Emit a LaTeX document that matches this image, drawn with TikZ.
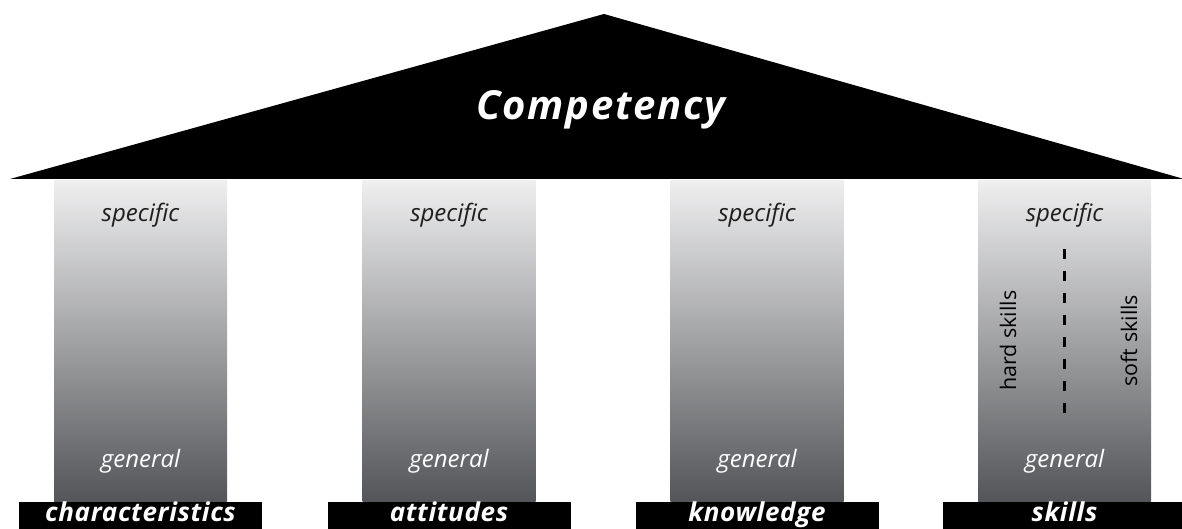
\documentclass[tikz,border=0pt]{standalone}
\usepackage{fontspec}
\setmainfont{Open Sans}
\usetikzlibrary{positioning}

\definecolor{pilltop}{RGB}{239,239,240}
\definecolor{pillbot}{RGB}{84,85,88}
\definecolor{spectext}{RGB}{30,30,30}

\tikzset{
    pillar/.style={minimum width=173pt, minimum height=321pt, inner sep=0pt,
        top color=pilltop, bottom color=pillbot, anchor=north},
    plinth/.style={fill=black, minimum width=243pt, minimum height=30pt, inner sep=0pt,
        text height=19pt, text depth=10pt, text=white,
        font=\fontsize{26}{30}\selectfont\bfseries\itshape\addfontfeatures{LetterSpace=2.5}},
    level/.style={inner sep=0pt, anchor=base, font=\fontsize{24}{28}\selectfont\itshape},
    skilltype/.style={inner sep=0pt, rotate=90, font=\fontsize{21.5}{25}\selectfont},
}

\begin{document}
\begin{tikzpicture}[x=1pt, y=-1pt]
    \useasboundingbox (0,0) rectangle (1182,529);

    % roof
    \fill[black] (10,179) -- (604,14) -- (1184,179) -- cycle;
    \node[anchor=base, text=white,
        font=\fontsize{40}{46}\selectfont\bfseries\itshape\addfontfeatures{LetterSpace=4.5}]
        (roof) at (601,120) {Competency};

    % pillars
    \node[pillar] (col1) at (140.5,180) {};
    \node[pillar] (col2) at (449,180) {};
    \node[pillar] (col3) at (757,180) {};
    \node[pillar] (col4) at (1064.5,180) {};

    % bases
    \node[plinth, below=0pt of col1] (base1) {characteristics};
    \node[plinth, below=0pt of col2] (base2) {attitudes};
    \node[plinth, below=0pt of col3] (base3) {knowledge};
    \node[plinth, below=0pt of col4] (base4) {skills};

    % top and bottom of each pillar
    \node[level, text=spectext] (spec1) at ([yshift=-42pt]col1.north) {specific};
    \node[level, text=spectext] (spec2) at ([yshift=-42pt]col2.north) {specific};
    \node[level, text=spectext] (spec3) at ([yshift=-42pt]col3.north) {specific};
    \node[level, text=spectext] (spec4) at ([yshift=-42pt]col4.north) {specific};

    \node[level, text=white] (gen1) at ([yshift=34pt]col1.south) {general};
    \node[level, text=white] (gen2) at ([yshift=34pt]col2.south) {general};
    \node[level, text=white] (gen3) at ([yshift=34pt]col3.south) {general};
    \node[level, text=white] (gen4) at ([yshift=34pt]col4.south) {general};

    % hard / soft split
    \coordinate (dtop) at ([yshift=-69pt]col4.north);
    \coordinate (dbot) at ([yshift=81pt]col4.south);
    \draw[line width=2.6pt, dash pattern=on 10pt off 12pt] (dtop) -- (dbot);

    \node[skilltype] (hard) at ([xshift=-56.5pt]col4.center) {hard skills};
    \node[skilltype] (soft) at ([xshift=64.5pt]col4.center) {soft skills};
\end{tikzpicture}
\end{document}
